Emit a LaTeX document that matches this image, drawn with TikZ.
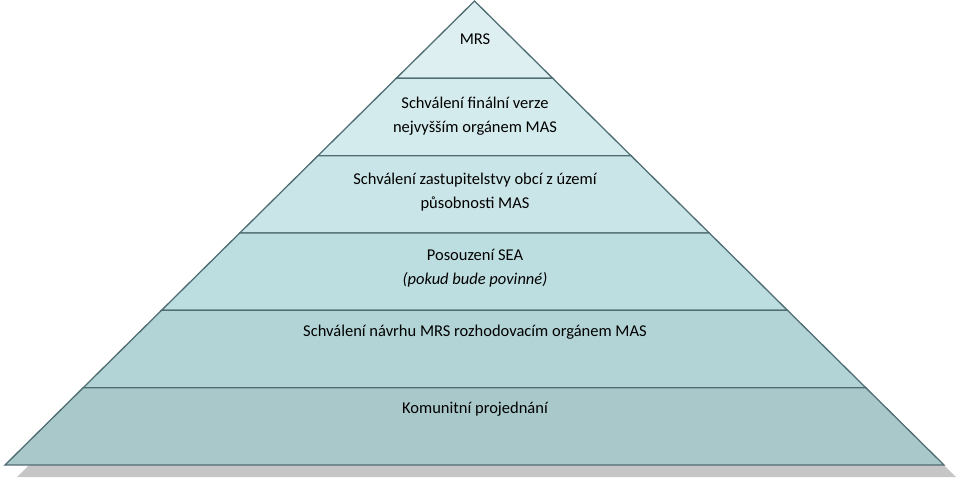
\documentclass[tikz,border=0pt]{standalone}
\usepackage{fontspec}
\setmainfont{Carlito}
\usetikzlibrary{calc}
\definecolor{bandA}{HTML}{DDEFF1}
\definecolor{bandB}{HTML}{D4EBED}
\definecolor{bandC}{HTML}{CAE5E7}
\definecolor{bandD}{HTML}{BDDEE0}
\definecolor{bandE}{HTML}{B2D4D6}
\definecolor{bandF}{HTML}{A8C8CA}
\definecolor{edgeC}{HTML}{4E6C72}
\definecolor{shadowC}{HTML}{C6C6C6}
\tikzset{
  lbl/.style={align=center, font=\fontsize{16.5}{24}\selectfont, text=black, inner sep=0pt},
  band/.style={draw=edgeC, line width=1.3pt, line join=miter}
}
\begin{document}
\begin{tikzpicture}[x=1pt,y=-1pt]
\useasboundingbox (0,0) rectangle (960,479);
\coordinate (A) at (474.5,1);
\coordinate (L) at (5,465);
\coordinate (R) at (944,465);
% shadow
\begin{scope}
\clip (0,0) rectangle (960,479);
\fill[shadowC] ($(A)+(12,12)$) -- ($(L)+(12,12)$) -- ($(R)+(12,12)$) -- cycle;
\end{scope}
% bands
\foreach \a/\b/\c in {0/1/bandA, 1/2/bandB, 2/3/bandC, 3/4/bandD, 4/5/bandE, 5/6/bandF}{
  \filldraw[band, fill=\c] ($(A)!\a/6!(L)$) -- ($(A)!\a/6!(R)$) -- ($(A)!\b/6!(R)$) -- ($(A)!\b/6!(L)$) -- cycle;
}
% labels
\node[lbl] (t1) at (475,39) {MRS};
\node[lbl] (t2) at (475,116.5) {Schválení finální verze\\nejvyšším orgánem MAS};
\node[lbl] (t3) at (475,192) {Schválení zastupitelstvy obcí z území\\působnosti MAS};
\node[lbl] (t4) at (475,268) {Posouzení SEA\\\textit{(pokud bude povinné)}};
\node[lbl] (t5) at (475,332) {Schválení návrhu MRS rozhodovacím orgánem MAS};
\node[lbl] (t6) at (475,409) {Komunitní projednání};
\end{tikzpicture}
\end{document}
